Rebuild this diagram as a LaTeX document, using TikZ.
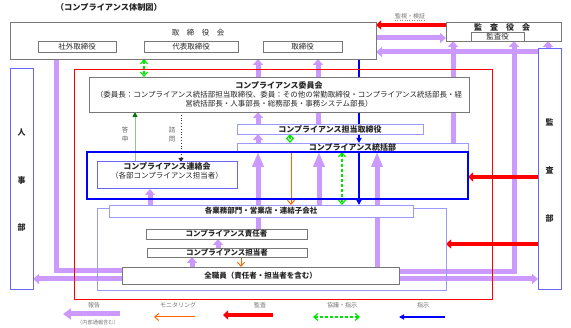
\documentclass[tikz,border=0pt]{standalone}
\usepackage{fontspec}
\setmainfont{Noto Sans CJK JP}
\usetikzlibrary{arrows.meta,positioning,backgrounds}
\definecolor{rptpurple}{RGB}{204,153,255}
\definecolor{lineblue}{RGB}{153,153,255}
\definecolor{sideblue}{RGB}{102,102,255}
\definecolor{boxgray}{RGB}{120,120,120}
\definecolor{monorange}{RGB}{255,102,0}
\definecolor{coopgreen}{RGB}{0,230,0}
\definecolor{ansgreen}{RGB}{0,120,0}
\definecolor{anslight}{RGB}{140,200,140}
\newcommand\boxfont{\fontsize{7.5}{9}\selectfont}
\newcommand\hdfont{\bfseries\fontsize{8}{10}\selectfont}
\newcommand\legfont{\fontsize{6}{7}\selectfont}
\newcommand\notefont{\fontsize{5.2}{6}\selectfont}
\tikzset{
  box/.style={draw=boxgray, fill=white, line width=0.9pt, inner sep=0pt, outer sep=0pt, align=center, text=black!85, font=\boxfont},
  subbox/.style={box, line width=0.6pt},
  lavbox/.style={box, draw=lineblue, line width=0.8pt},
  sidebox/.style={box, draw=sideblue, line width=1pt},
  txt/.style={inner sep=0pt, outer sep=0pt, align=center, text=black!85},
  legtxt/.style={txt, text=black!55, font=\legfont},
  rpt/.style={draw=rptpurple, line width=5pt, line join=miter, -{Triangle[length=6pt,width=10pt]}},
  bigrpt/.style={rpt, -{Triangle[length=15pt,width=11pt]}},
  rptbar/.style={draw=rptpurple, line width=5pt},
  aud/.style={draw=red, line width=4pt, -{Triangle[length=5pt,width=9pt]}},
  inst/.style={draw=blue, line width=1.2pt, -{Triangle[length=5pt,width=5pt]}},
  instbar/.style={draw=blue, line width=1.2pt},
  mon/.style={draw=monorange, line width=1pt, -{Straight Barb[length=4pt,width=7pt]}},
  coop/.style={draw=coopgreen, line width=1.2pt, dash pattern=on 3pt off 2pt, {Straight Barb[length=4pt,width=7pt]}-{Straight Barb[length=4pt,width=7pt]}},
  ans/.style={draw=anslight, line width=0.8pt, -{Triangle[length=5pt,width=5pt,color=ansgreen]}},
  ask/.style={draw=black!80, line width=0.8pt, dotted, -{Triangle[length=4pt,width=5pt]}}
}

\begin{document}
\begin{tikzpicture}[x=1pt, y=-1pt]
\useasboundingbox (0,0) rectangle (571,328);
\foreach \x in {56,135,144,150,181,192,218,241,258,290,291,318,319,342,359,377,453,514,548}
  \coordinate (c\x) at (\x,0);
\foreach \y in {25,38,52,177,244,271,272,279}
  \coordinate (r\y) at (0,\y);

\node[txt, font=\bfseries\fontsize{8.2}{10}\selectfont, anchor=west] (title) at (56,7) {（コンプライアンス体制図）};

\node[box, minimum width=366pt, minimum height=37pt] (bod) at (193,40.5) {};
\node[txt, font=\boxfont] (bodt) at (198,33) {取\hspace{1em}締\hspace{1em}役\hspace{1em}会};
\node[subbox, minimum width=78pt, minimum height=11pt] (sub1) at (77,46.5) {社外取締役};
\node[subbox, minimum width=94pt, minimum height=11pt] (sub2) at (191,46.5) {代表取締役};
\node[subbox, minimum width=79pt, minimum height=11pt] (sub3) at (302.5,46.5) {取締役};

\node[box, minimum width=115pt, minimum height=19pt] (acb) at (503.5,31.5) {};
\node[txt, font=\hdfont] (acbt) at (502,27) {監\hspace{1em}査\hspace{1em}役\hspace{1em}会};
\node[subbox, minimum width=53pt, minimum height=9pt] (aud) at (497.5,36.5) {監査役};
\node[legtxt] (watch) at (410,16) {監視・検証};
\draw[black!45, dotted] ([yshift=-1.5pt]watch.south west) -- ([yshift=-1.5pt]watch.south east);

\node[sidebox, minimum width=23pt, minimum height=221pt] (hr) at (21.5,179.5) {};
\foreach \ch/\yy [count=\i] in {人/133,事/180,部/228}
  \node[txt, font=\hdfont] (hr\i) at (21.5,\yy) {\ch};
\node[sidebox, minimum width=23pt, minimum height=241pt] (ad) at (549.5,169.5) {};
\foreach \ch/\yy [count=\i] in {監/122,査/170,部/219}
  \node[txt, font=\hdfont] (ad\i) at (549.5,\yy) {\ch};

\draw[red, line width=0.8pt] (74,69) rectangle (492,299);

\node[box, minimum width=380pt, minimum height=35pt] (cc) at (279,94.5)
  {{\hdfont コンプライアンス委員会}\\（委員長：コンプライアンス統括部担当取締役、委員：その他の常勤取締役・コンプライアンス統括部長・経\\営統括部長・人事部長・総務部長・事務システム部長）};
\node[lavbox, font=\hdfont, minimum width=186pt, minimum height=10pt] (td) at (330,129) {コンプライアンス担当取締役};
\node[lavbox, font=\hdfont, minimum width=231pt, minimum height=9pt] (hql) at (352.5,147.5) {コンプライアンス統括部};
\node[draw=blue, line width=1.3pt, inner sep=0pt, outer sep=0pt, minimum width=381pt, minimum height=47pt] (dept) at (277.5,175.5) {};
\node[sidebox, minimum width=140pt, minimum height=27pt] (lc) at (167,175.5) {};
\node[txt, font=\boxfont] (lct) at (167,171) {{\hdfont コンプライアンス連絡会}\\（各部コンプライアンス担当者）};
\node[txt, font=\fontsize{6.5}{9}\selectfont, text=black!60] (ansl) at (125,134.5) {答\\申};
\node[txt, font=\fontsize{6.5}{9}\selectfont, text=black!60] (askl) at (172,134.5) {諮\\問};

\node[lavbox, fill=none, minimum width=349pt, minimum height=82pt] (grp) at (271.5,249) {};
\node[lavbox, font=\bfseries\boxfont, minimum width=304pt, minimum height=12pt] (biz) at (261,211) {各業務部門・営業店・連結子会社};
\node[subbox, font=\bfseries\boxfont, minimum width=161pt, minimum height=10pt] (mgr) at (226.5,234) {コンプライアンス責任者};
\node[subbox, font=\bfseries\boxfont, minimum width=160pt, minimum height=9pt] (off) at (227,252.5) {コンプライアンス担当者};
\node[box, font=\bfseries\boxfont, minimum width=277pt, minimum height=17pt] (all) at (260.5,275.5) {全職員（責任者・担当者を含む）};

\begin{scope}[on background layer]
\draw[rpt] (all.west |- r271) -| (sub1.south -| c56);
\draw[rpt] (all.east |- r272) -| (aud.south -| c514);
\draw[rpt] (all.west |- r279) -- (hr.east |- r279);
\draw[rpt] (all.east |- r279) -- (ad.west |- r279);
\draw[rpt] (all.north -| c192) -- (off.south -| c192);
\draw[rpt] (off.north -| c218) -- (mgr.south -| c218);
\draw[bigrpt] (mgr.north -| c258) -- (hql.south -| c258);
\draw[bigrpt] (biz.north -| c319) -- (hql.south -| c319);
\draw[bigrpt] (all.north -| c377) -- (hql.south -| c377);
\draw[rpt] (biz.north -| c150) -- (lc.south -| c150);
\draw[rpt] (hql.north -| c258) -- (td.south -| c258);
\draw[rpt] (td.north -| c258) -- (cc.south -| c258);
\draw[rptbar] (td.north -| c318) -- (cc.south -| c318);
\draw[rpt] (cc.north -| c258) -- (bod.south -| c258);
\draw[rpt] (cc.north -| c318) -- (bod.south -| c318);
\draw[rpt] (hql.north -| c453) -- (acb.south -| c453);
\draw[rpt] (bod.east |- r38) -- (acb.west |- r38);
\draw[rpt] (ad.west |- r52) -- (bod.east |- r52);
\draw[rpt] (ad.north -| c548) -- (acb.south -| c548);
\draw[aud] (acb.west |- r25) -- (bod.east |- r25);
\draw[aud] (ad.west |- r177) -- (dept.east |- r177);
\draw[aud] (ad.west |- r244) -- (grp.east |- r244);
\draw[instbar] (bod.south -| c359) -- (cc.north -| c359);
\draw[instbar] (cc.south -| c359) -- (td.north -| c359);
\draw[inst] (td.south -| c359) -- (hql.north -| c359);
\draw[inst] (hql.south -| c359) -- (biz.north -| c359);
\draw[coop] (bod.south -| c144) -- (cc.north -| c144);
\draw[coop] (td.south -| c290) -- (hql.north -| c290);
\draw[coop] (hql.south -| c342) -- (biz.north -| c342);
\draw[mon] (hql.south -| c291) -- (biz.north -| c291);
\draw[mon] (off.south -| c241) -- (all.north -| c241);
\draw[ans] (lc.north -| c135) -- (cc.south -| c135);
\draw[ask] (cc.south -| c181) -- (lc.north -| c181);
\end{scope}

\node[legtxt] (lgrpt) at (94,305) {報告};
\node[txt, font=\notefont, text=black!55] (lgnote) at (98,323) {（内部通報含む）};
\node[legtxt] (lgmon) at (178,305) {モニタリング};
\node[legtxt] (lgaud) at (260,305) {監査};
\node[legtxt] (lgcoop) at (342,305) {協議・指示};
\node[legtxt] (lginst) at (423,305) {指示};
\coordinate (lr1) at (120,314); \coordinate (lr2) at (63,314);
\coordinate (lm1) at (195,317); \coordinate (lm2) at (154,317);
\coordinate (la1) at (273,315); \coordinate (la2) at (223,315);
\coordinate (lc1) at (313,317); \coordinate (lc2) at (360,317);
\coordinate (li1) at (445,317); \coordinate (li2) at (399,317);
\draw[rpt, -{Triangle[length=8pt,width=11pt]}] (lr1) -- (lr2);
\draw[mon] (lm1) -- (lm2);
\draw[aud] (la1) -- (la2);
\draw[coop] (lc1) -- (lc2);
\draw[inst] (li1) -- (li2);
\end{tikzpicture}
\end{document}
